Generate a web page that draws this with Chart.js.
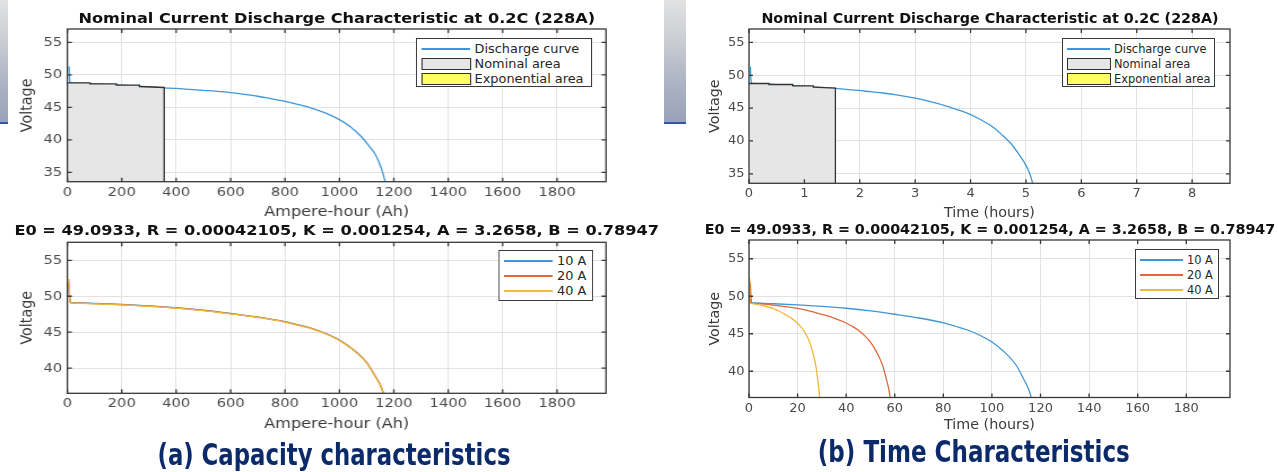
<!DOCTYPE html>
<html lang="en">
<head>
<meta charset="utf-8">
<title>Battery discharge characteristics</title>
<script src="https://cdn.jsdelivr.net/npm/chart.js@4.4.1/dist/chart.umd.min.js"></script>
<style>
    html, body { margin: 0; padding: 0; background: #fff; }
    body { position: relative; width: 1278px; height: 472px; overflow: hidden; font-family: 'DejaVu Sans', sans-serif; }
    .photo { position: absolute; background: linear-gradient(to bottom, #e2e2e2 0%, #c9ccd2 35%, #aeb5c4 65%, #98a2b8 100%); border-bottom: 2px solid #2f55a4; }
    .fig { position: absolute; top: 0; height: 472px; transform-origin: 0 0; }
    .fig canvas { position: absolute; }
    .ptitle { position: absolute; width: 800px; height: 16px; line-height: 16px; text-align: center; white-space: nowrap; font-weight: bold; font-size: 14.3px; color: #111; }
    .legend { position: absolute; box-sizing: border-box; border: 1px solid #3a3a3a; background: #fff; font-size: 11.4px; color: #262626; }
    .legend .item { position: absolute; left: 0; right: 0; height: 14px; line-height: 14px; }
    .legend .line { position: absolute; left: 4px; width: 43px; top: 6.4px; height: 1.4px; }
    .legend .patch { position: absolute; left: 4px; width: 44px; top: 1px; height: 12px; box-sizing: border-box; border: 1.2px solid #333; }
    .legend .label { position: absolute; left: 51px; top: 0; white-space: nowrap; }
    .caption { position: absolute; width: 800px; text-align: center; white-space: nowrap; }
    .caption span { display: inline-block; font-family: 'Liberation Sans Narrow', 'DejaVu Sans Condensed', 'DejaVu Sans', sans-serif; font-stretch: condensed; font-weight: bold; font-size: 30px; line-height: 34px; color: #0b2a6a; }
</style>
</head>
<body>
<div class="photo" style="left:0;top:0;width:8px;height:122px"></div>
<div class="photo" style="left:664px;top:0;width:22px;height:122px"></div>

<div class="fig" id="figA" style="left:0;width:566px;transform:scaleX(1.13)">
    <canvas id="capTop" width="566" height="222" style="left:0;top:0"></canvas>
    <canvas id="capBottom" width="566" height="214" style="left:0;top:222px"></canvas>
    <div class="ptitle" style="left:-102px;top:10px">Nominal Current Discharge Characteristic at 0.2C (228A)</div>
    <div class="ptitle" style="left:-102px;top:222px">E0 = 49.0933, R = 0.00042105, K = 0.001254, A = 3.2658, B = 0.78947</div>
    <div class="legend" style="left:368px;top:38px;width:156px;height:49px">
        <div class="item" style="top:3px"><span class="line" style="background:#3f97d8"></span><span class="label">Discharge curve</span></div>
        <div class="item" style="top:18px"><span class="patch" style="background:#e6e6e6"></span><span class="label">Nominal area</span></div>
        <div class="item" style="top:33px"><span class="patch" style="background:#ffff66"></span><span class="label">Exponential area</span></div>
    </div>
    <div class="legend" style="left:441px;top:250px;width:84px;height:51px">
        <div class="item" style="top:3px"><span class="line" style="background:#3f97d8"></span><span class="label">10 A</span></div>
        <div class="item" style="top:18px"><span class="line" style="background:#e0683a"></span><span class="label">20 A</span></div>
        <div class="item" style="top:33px"><span class="line" style="background:#f0b83c"></span><span class="label">40 A</span></div>
    </div>
</div>

<div class="fig" id="figB" style="left:640px;width:638px">
    <canvas id="timeTop" width="638" height="222" style="left:0;top:0"></canvas>
    <canvas id="timeBottom" width="638" height="214" style="left:0;top:222px"></canvas>
    <div class="ptitle" style="left:-50px;top:10px">Nominal Current Discharge Characteristic at 0.2C (228A)</div>
    <div class="ptitle" style="left:-50px;top:221px">E0 = 49.0933, R = 0.00042105, K = 0.001254, A = 3.2658, B = 0.78947</div>
    <div class="legend" style="left:422px;top:38px;width:153px;height:49px">
        <div class="item" style="top:3px"><span class="line" style="background:#3f97d8"></span><span class="label">Discharge curve</span></div>
        <div class="item" style="top:18px"><span class="patch" style="background:#e6e6e6"></span><span class="label">Nominal area</span></div>
        <div class="item" style="top:33px"><span class="patch" style="background:#ffff66"></span><span class="label">Exponential area</span></div>
    </div>
    <div class="legend" style="left:495px;top:249px;width:84px;height:50px">
        <div class="item" style="top:3px"><span class="line" style="background:#3f97d8"></span><span class="label">10 A</span></div>
        <div class="item" style="top:18px"><span class="line" style="background:#e0683a"></span><span class="label">20 A</span></div>
        <div class="item" style="top:33px"><span class="line" style="background:#f0b83c"></span><span class="label">40 A</span></div>
    </div>
</div>

<div class="caption" style="left:-66px;top:438px"><span data-fit="353">(a) Capacity characteristics</span></div>
<div class="caption" style="left:574px;top:435px"><span data-fit="312">(b) Time Characteristics</span></div>

<script>
// ---- axis limits and tick labels ----
const TOP_Y_MIN = 33.55;
const TOP_Y_MAX = 57.05;
const BOTTOM_Y_MIN = 36.5;
const BOTTOM_Y_MAX = 57.5;
const CAP_X_MAX = 1980;
const HOURS_X_MAX = 8.684;
const RATE_HOURS_X_MAX = 198;

const capTicks = [0, 200, 400, 600, 800, 1000, 1200, 1400, 1600, 1800];
const hourTicks = [0, 1, 2, 3, 4, 5, 6, 7, 8];
const rateHourTicks = [0, 20, 40, 60, 80, 100, 120, 140, 160, 180];
const topVoltTicks = [35, 40, 45, 50, 55];
const bottomVoltTicks = [40, 45, 50, 55];

// ---- nominal discharge at 0.2C (228 A) ----
const dischargeAh = [6, 7, 9, 12, 50, 100, 150, 200, 250, 300, 356, 400, 450, 500, 550, 600, 650, 700, 750, 800, 850, 900, 950, 1000, 1040, 1080, 1110, 1135, 1155, 1168];
const dischargeAhVolt = [51.3, 50.2, 49.0, 48.75, 48.72, 48.6, 48.5, 48.4, 48.3, 48.15, 48.0, 47.9, 47.75, 47.6, 47.45, 47.25, 47.0, 46.7, 46.3, 45.9, 45.4, 44.85, 44.1, 43.1, 42.0, 40.5, 39.0, 37.5, 35.5, 33.6];
const nominalAreaAh = [0, 83, 83, 180, 180, 265, 265, 356, 356];
const nominalAreaAhVolt = [48.75, 48.75, 48.6, 48.6, 48.4, 48.4, 48.2, 48.05, TOP_Y_MIN];

const dischargeHours = [0.026, 0.03, 0.04, 0.055, 0.22, 0.44, 0.66, 0.88, 1.10, 1.32, 1.56, 1.75, 1.97, 2.19, 2.41, 2.63, 2.85, 3.07, 3.29, 3.51, 3.73, 3.95, 4.17, 4.39, 4.56, 4.74, 4.87, 4.98, 5.07, 5.12];
const dischargeHoursVolt = [51.3, 50.2, 49.0, 48.75, 48.72, 48.6, 48.5, 48.4, 48.3, 48.15, 48.0, 47.85, 47.7, 47.5, 47.3, 47.05, 46.75, 46.4, 45.95, 45.45, 44.85, 44.2, 43.3, 42.2, 41.0, 39.5, 38.0, 36.6, 35.0, 33.6];
const nominalAreaHours = [0, 0.36, 0.36, 0.79, 0.79, 1.16, 1.16, 1.56, 1.56];
const nominalAreaHoursVolt = [48.75, 48.75, 48.6, 48.6, 48.4, 48.4, 48.2, 48.05, TOP_Y_MIN];

// ---- discharge at 10 A, 20 A, 40 A ----
const rateAh = [6, 8, 12, 20, 100, 200, 300, 400, 500, 600, 700, 800, 850, 900, 950, 1000, 1050, 1100, 1130, 1150, 1162];
const volt10A = [51.6, 50.0, 49.15, 49.1, 49.0, 48.85, 48.65, 48.4, 48.05, 47.6, 47.1, 46.45, 46.0, 45.5, 44.8, 43.9, 42.6, 40.8, 39.0, 37.7, 36.5];
const volt20A = [51.9, 50.0, 49.12, 49.08, 48.98, 48.83, 48.63, 48.38, 48.03, 47.58, 47.08, 46.43, 45.98, 45.48, 44.78, 43.88, 42.58, 40.78, 38.98, 37.68, 36.5];
const volt40A = [52.4, 50.0, 49.08, 49.05, 48.95, 48.8, 48.6, 48.35, 48.0, 47.55, 47.05, 46.4, 45.95, 45.45, 44.75, 43.85, 42.55, 40.75, 38.95, 37.65, 36.5];
const hours10A = [0.6, 0.8, 1.2, 2, 10, 20, 30, 40, 50, 60, 70, 80, 85, 90, 95, 100, 105, 110, 113, 115, 116.2];
const hours20A = [0.45, 0.5, 0.7, 1, 5, 10, 15, 20, 25, 30, 35, 40, 42.5, 45, 47.5, 50, 52.5, 55, 56.5, 57.5, 58.1];
const hours40A = [0.3, 0.33, 0.4, 0.5, 2.5, 5, 7.5, 10, 12.5, 15, 17.5, 20, 21.25, 22.5, 23.75, 25, 26.25, 27.5, 28.25, 28.75, 29.05];

(function () {
    'use strict';

    const BLUE = '#3f97d8';
    const RED = '#e0683a';
    const YELLOW = '#f0b83c';
    const GRID = '#e2e2e2';
    const BOX = '#383838';
    const TICK_COLOR = '#4a4a4a';
    const LABEL_COLOR = '#3a3a3a';

    Chart.defaults.font.family = "'DejaVu Sans', sans-serif";
    Chart.defaults.animation = false;

    // MATLAB-like box with inward tick marks on all four sides
    const matlabBox = {
        id: 'matlabBox',
        afterDraw(chart) {
            const { ctx, chartArea: area, scales } = chart;
            ctx.save();
            ctx.strokeStyle = BOX;
            ctx.lineWidth = 1.3;
            ctx.beginPath();
            scales.x.ticks.forEach((tick) => {
                const px = scales.x.getPixelForValue(tick.value);
                ctx.moveTo(px, area.bottom);
                ctx.lineTo(px, area.bottom - 4);
                ctx.moveTo(px, area.top);
                ctx.lineTo(px, area.top + 4);
            });
            scales.y.ticks.forEach((tick) => {
                const py = scales.y.getPixelForValue(tick.value);
                ctx.moveTo(area.left, py);
                ctx.lineTo(area.left + 4, py);
                ctx.moveTo(area.right, py);
                ctx.lineTo(area.right - 4, py);
            });
            ctx.stroke();
            ctx.strokeRect(area.left, area.top, area.right - area.left, area.bottom - area.top);
            ctx.restore();
        },
    };

    function toPoints(xs, ys) {
        return xs.map((x, i) => ({ x, y: ys[i] }));
    }

    function curve(xs, ys, color, order) {
        return {
            data: toPoints(xs, ys),
            borderColor: color,
            borderWidth: 1.3,
            pointRadius: 0,
            cubicInterpolationMode: 'monotone',
            fill: false,
            clip: false,
            order,
        };
    }

    function nominalArea(xs, ys) {
        return {
            data: toPoints(xs, ys),
            borderColor: '#333333',
            backgroundColor: '#e6e6e6',
            borderWidth: 1.3,
            pointRadius: 0,
            tension: 0,
            fill: 'start',
            order: 0,
        };
    }

    function drawPanel(canvasId, setup) {
        const canvas = document.getElementById(canvasId);
        const width = canvas.width;

        return new Chart(canvas, {
            type: 'line',
            data: { datasets: setup.datasets },
            options: {
                responsive: false,
                maintainAspectRatio: false,
                devicePixelRatio: 1,
                events: [],
                layout: {
                    padding: { left: 0, top: setup.box.top, right: width - setup.box.right, bottom: 0 },
                },
                plugins: {
                    legend: { display: false },
                    tooltip: { enabled: false },
                },
                scales: {
                    x: {
                        type: 'linear',
                        min: 0,
                        max: setup.xMax,
                        afterBuildTicks: (scale) => { scale.ticks = setup.xTicks.map((value) => ({ value })); },
                        afterFit: (scale) => { scale.height = setup.xAxisHeight; },
                        grid: { color: GRID, drawTicks: false },
                        border: { display: false },
                        ticks: {
                            color: TICK_COLOR,
                            font: { size: 13 },
                            padding: 3,
                            autoSkip: false,
                            maxRotation: 0,
                            callback: (value) => String(value),
                        },
                        title: {
                            display: true,
                            text: setup.xTitle,
                            color: LABEL_COLOR,
                            font: { size: 14.3 },
                            padding: { top: 0, bottom: setup.xTitlePad },
                        },
                    },
                    y: {
                        type: 'linear',
                        min: setup.yMin,
                        max: setup.yMax,
                        afterBuildTicks: (scale) => { scale.ticks = setup.yTicks.map((value) => ({ value })); },
                        afterFit: (scale) => { scale.width = setup.box.left; },
                        grid: { color: GRID, drawTicks: false },
                        border: { display: false },
                        ticks: {
                            color: TICK_COLOR,
                            font: { size: 13 },
                            padding: 4.5,
                            callback: (value) => String(value),
                        },
                        title: {
                            display: true,
                            text: 'Voltage',
                            color: LABEL_COLOR,
                            font: { size: 14.3 },
                            padding: { top: setup.yTitlePad, bottom: 0 },
                        },
                    },
                },
            },
            plugins: [matlabBox],
        });
    }

    // (a) capacity characteristics, left figure (coordinates before the 1.13 horizontal stretch)
    drawPanel('capTop', {
        box: { left: 59.6, right: 536.3, top: 29 },
        xAxisHeight: 40.3,
        xMax: CAP_X_MAX, xTicks: capTicks, xTitle: 'Ampere-hour (Ah)', xTitlePad: 1.4,
        yMin: TOP_Y_MIN, yMax: TOP_Y_MAX, yTicks: topVoltTicks, yTitlePad: 16.2,
        datasets: [
            nominalArea(nominalAreaAh, nominalAreaAhVolt),
            curve(dischargeAh, dischargeAhVolt, BLUE, 1),
        ],
    });

    drawPanel('capBottom', {
        box: { left: 59.6, right: 536.3, top: 20.3 },
        xAxisHeight: 42.7,
        xMax: CAP_X_MAX, xTicks: capTicks, xTitle: 'Ampere-hour (Ah)', xTitlePad: 3.4,
        yMin: BOTTOM_Y_MIN, yMax: BOTTOM_Y_MAX, yTicks: bottomVoltTicks, yTitlePad: 16.2,
        datasets: [
            curve(rateAh, volt10A, BLUE, 3),
            curve(rateAh, volt20A, RED, 2),
            curve(rateAh, volt40A, YELLOW, 1),
        ],
    });

    // (b) time characteristics, right figure
    drawPanel('timeTop', {
        box: { left: 109, right: 590, top: 29 },
        xAxisHeight: 38.7,
        xMax: HOURS_X_MAX, xTicks: hourTicks, xTitle: 'Time (hours)', xTitlePad: 0,
        yMin: TOP_Y_MIN, yMax: TOP_Y_MAX, yTicks: topVoltTicks, yTitlePad: 66.4,
        datasets: [
            nominalArea(nominalAreaHours, nominalAreaHoursVolt),
            curve(dischargeHours, dischargeHoursVolt, BLUE, 1),
        ],
    });

    drawPanel('timeBottom', {
        box: { left: 109, right: 590, top: 18 },
        xAxisHeight: 38.5,
        xMax: RATE_HOURS_X_MAX, xTicks: rateHourTicks, xTitle: 'Time (hours)', xTitlePad: 2.4,
        yMin: BOTTOM_Y_MIN, yMax: BOTTOM_Y_MAX, yTicks: bottomVoltTicks, yTitlePad: 66.4,
        datasets: [
            curve(hours10A, volt10A, BLUE, 3),
            curve(hours20A, volt20A, RED, 2),
            curve(hours40A, volt40A, YELLOW, 1),
        ],
    });

    // stretch the condensed captions to the width they have in the slide
    document.querySelectorAll('.caption span').forEach((span) => {
        const target = Number(span.dataset.fit);
        const actual = span.getBoundingClientRect().width;
        if (actual > 0) {
            span.style.transform = `scaleX(${target / actual})`;
        }
    });
})();
</script>
</body>
</html>
